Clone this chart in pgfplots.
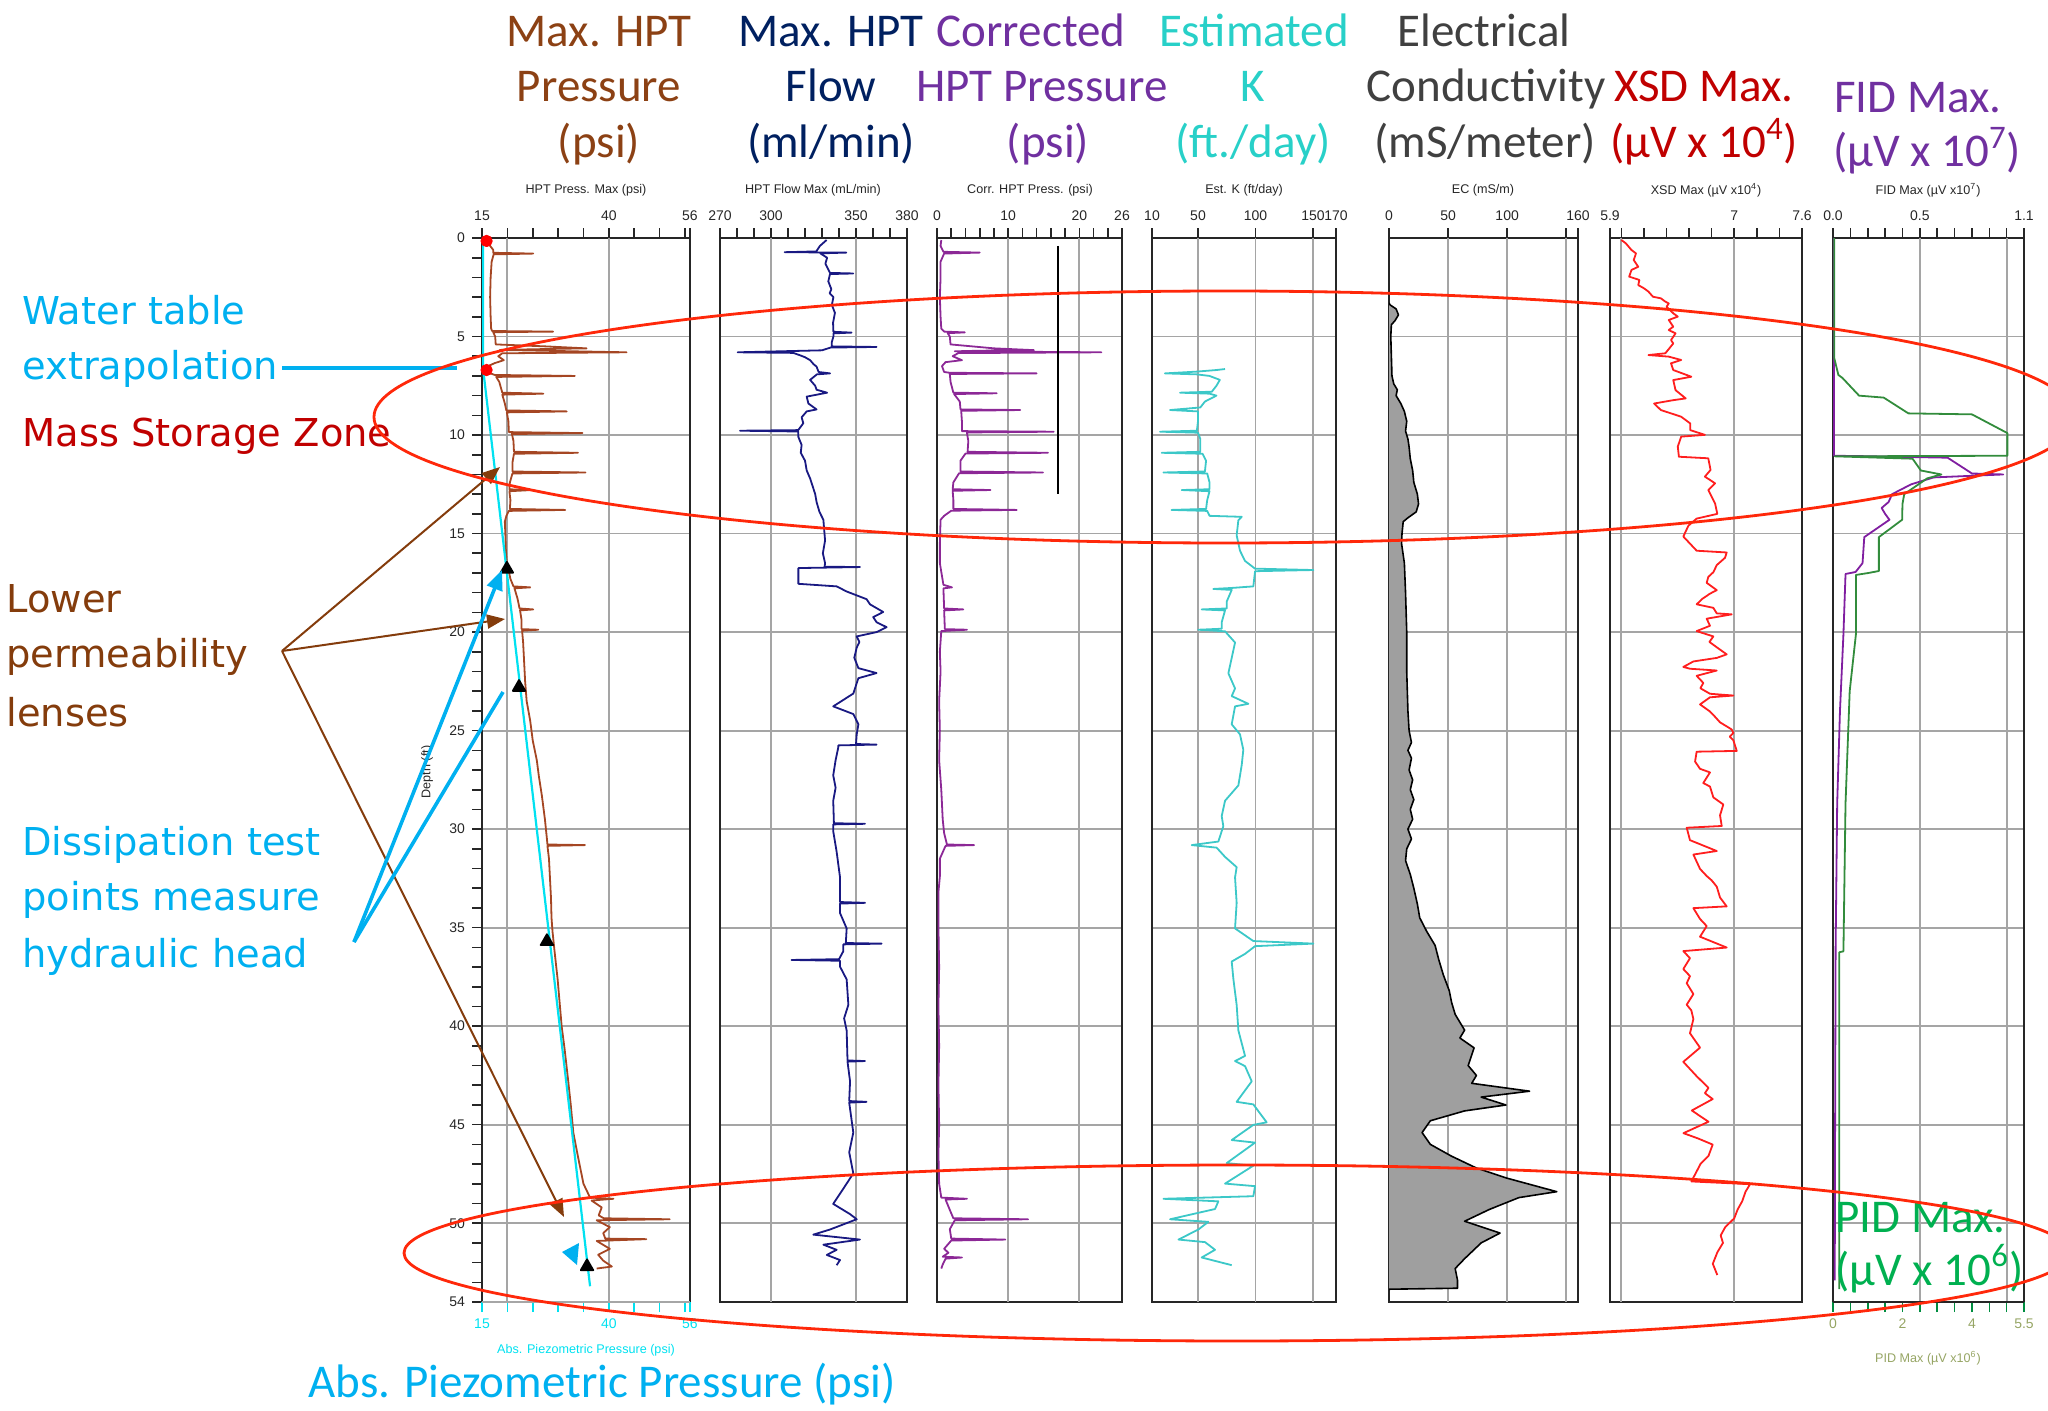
\documentclass[border=0pt]{standalone}
\usepackage{fontspec}
\setmainfont{Liberation Sans}
\newfontfamily\calfont{Carlito}
\newfontfamily\dvfont{DejaVu Sans}
\usepackage{pgfplots}
\pgfplotsset{compat=1.18}
\usetikzlibrary{arrows.meta}

\definecolor{hdrBrown}{RGB}{140,65,20}
\definecolor{hdrNavy}{RGB}{0,32,96}
\definecolor{hdrPurple}{RGB}{112,48,160}
\definecolor{hdrTurq}{RGB}{40,208,200}
\definecolor{hdrGray}{RGB}{64,64,64}
\definecolor{hdrRed}{RGB}{192,0,0}
\definecolor{hdrGreen}{RGB}{0,176,80}
\definecolor{annCyan}{RGB}{0,176,240}
\definecolor{annBrown}{RGB}{132,60,12}
\definecolor{ellRed}{RGB}{255,40,10}
\definecolor{dBrown}{RGB}{165,70,35}
\definecolor{dNavy}{RGB}{25,25,130}
\definecolor{dPurple}{RGB}{140,40,150}
\definecolor{dTurq}{RGB}{60,200,200}
\definecolor{dRed}{RGB}{255,30,30}
\definecolor{dFID}{RGB}{128,30,160}
\definecolor{dPID}{RGB}{50,140,60}
\definecolor{piezo}{RGB}{0,225,240}
\definecolor{pidtick}{RGB}{150,165,100}
\definecolor{gridc}{RGB}{165,165,165}

\pgfplotsset{
  panel/.style={
    scale only axis, height=532pt,
    y dir=reverse, ymin=0, ymax=54,
    axis line style={line width=1.3pt, black!85},
    ytick={0,5,...,50}, yticklabels={}, ytick style={draw=none},
    ymajorgrids, grid style={gridc, line width=0.9pt},
    xtick pos=right, xticklabel pos=right,
    tick align=outside,
    major tick length=5pt, minor tick length=5pt,
    tick style={black!85, line width=0.8pt},
    tick label style={font=\fontsize{7}{8}\selectfont, text=black!85},
    /pgf/number format/assume math mode=true,
    extra x tick labels={},
    extra x tick style={grid=major, major tick length=0pt},
    every axis plot/.append style={mark=none, line width=0.9pt, line join=round},
  },
  bottomaxis/.style={
    scale only axis, height=532pt,
    y dir=reverse, ymin=0, ymax=54,
    hide y axis, axis x line*=bottom,
    tick align=outside,
    major tick length=5pt, minor tick length=5pt,
    tick label style={font=\fontsize{7}{8}\selectfont},
    /pgf/number format/assume math mode=true,
    every axis plot/.append style={mark=none, line width=0.9pt, line join=round},
  },
}

\begin{document}
\begin{tikzpicture}
\path[use as bounding box] (0,0) rectangle (1024pt,-705.5pt);

% ---------------- Panel 1: HPT pressure ----------------
\begin{axis}[panel, at={(241pt,-119pt)}, anchor=north west, width=104pt,
  xmin=15, xmax=56, xtick={15,40,56}, minor xtick={20,25,30,35,45,50,55},
  extra x ticks={20,40},
  ytick={0,5,...,50,54}, yticklabels={0,5,10,15,20,25,30,35,40,45,50,54},
  minor ytick={1,2,...,53}, ytick pos=left, ytick style={draw=black!85},
  major tick length=5pt, minor tick length=5pt]
\addplot[dBrown] coordinates {
(15.9,0.05)(16.3,0.3)(17.2,0.6)(17.2,0.75)(25.1,0.79)(17.3,0.83)(16.9,1.2)(16.7,2.0)(16.6,3.0)(16.7,4.0)(16.8,4.6)(17.0,4.72)(29.0,4.75)(17.2,4.78)(17.6,5.0)(17.7,5.4)(27.5,5.5)(35.6,5.6)(28.5,5.63)(18.5,5.68)(43.5,5.8)(19.0,5.85)(18.2,6.0)(19.3,6.2)(17.5,6.35)(16.2,6.5)(16.0,6.8)(17.5,6.95)(33.3,7.0)(17.8,7.05)(18.4,7.3)(19.0,7.85)(27.1,7.9)(19.0,7.95)(19.5,8.4)(19.8,8.75)(31.7,8.8)(19.9,8.85)(20.2,9.3)(20.3,9.85)(34.8,9.9)(20.9,9.95)(21.2,10.3)(21.3,10.85)(33.9,10.9)(21.3,10.95)(21.0,11.4)(21.0,11.85)(35.4,11.9)(21.0,11.95)(20.5,12.4)(20.4,12.75)(24.2,12.8)(20.4,12.85)(20.6,13.3)(20.5,13.75)(31.4,13.8)(20.3,13.85)(19.8,14.1)(19.5,14.4)
(19.6,15.0)(19.7,15.8)(19.9,16.5)(20.2,16.8)(20.6,17.3)(21.2,17.68)(24.5,17.73)(21.4,17.78)(22.0,18.3)(22.4,18.8)(25.1,18.85)(22.5,18.9)(22.8,19.4)(22.8,19.85)(26.1,19.88)(22.9,19.93)(23.1,20.5)(23.3,21.5)(23.5,22.5)(23.8,23.5)(24.5,24.5)(25.0,25.5)(25.8,26.5)(26.2,27.3)(26.8,28.3)(27.4,29.5)(27.8,30.5)(27.9,30.78)(35.3,30.81)(27.9,30.85)(28.2,31.5)(28.4,32.5)(28.6,33.5)(28.7,34.5)(28.9,35.2)(29.3,36.2)(29.9,37.6)(30.3,38.8)(30.7,40.0)(31.3,41.2)(32.0,42.8)(32.5,44.0)(33.0,45.4)(33.9,46.6)(35.0,48.0)(36.3,48.7)(40.9,48.76)(36.6,48.85)(38.6,49.2)(38.0,49.6)(39.0,49.75)(52.0,49.8)(37.6,49.85)(40.2,50.2)(38.9,50.5)(39.3,50.78)(47.4,50.81)(37.6,50.9)(40.2,51.3)(37.9,51.6)(38.9,51.9)(40.6,52.2)(37.6,52.3)};
\addplot[piezo, line width=1.1pt] coordinates {(15.2,0)(15.2,6.6)(36.3,53.2)};
\addplot[only marks, mark=*, mark size=2.6pt, red] coordinates {(15.9,0.15)(15.9,6.7)};
\addplot[only marks, mark=triangle*, mark size=3.6pt, black] coordinates {(19.9,16.8)(22.3,22.8)(27.8,35.7)(35.7,52.2)};
\end{axis}
\begin{axis}[bottomaxis, at={(241pt,-119pt)}, anchor=north west, width=104pt,
  xmin=15, xmax=56, xtick={15,40,56}, minor xtick={20,25,30,35,45,50,55},
  x axis line style={gray!70, line width=1.3pt},
  tick style={piezo, line width=0.8pt}, xticklabel style={text=piezo}]
\addplot[draw=none] coordinates {(15,0)(56,54)};
\end{axis}

% ---------------- Panel 2: HPT flow ----------------
\begin{axis}[panel, at={(360pt,-119pt)}, anchor=north west, width=93.5pt,
  xmin=270, xmax=380, xtick={270,300,350,380},
  minor xtick={280,290,310,320,330,340,360,370}, extra x ticks={300,350}]
\addplot[dNavy] coordinates {
(332.7,0.1)(328.8,0.4)(326.6,0.68)(308.0,0.72)(344.3,0.74)(329,0.78)(333,1.0)(332,1.3)(333.7,1.6)(334.7,1.77)(348.4,1.8)(334.7,1.83)(333.7,2.2)(335.5,2.6)(334.5,2.8)(336.7,3.0)(335.8,3.4)(337.6,3.8)(336.5,4.3)(336.7,4.76)(347.4,4.8)(336.7,4.84)(336.7,5.0)(335.7,5.3)(335.7,5.5)(362.1,5.53)(335,5.56)(330,5.7)(280.4,5.8)(313.1,5.83)(317,5.95)(320,6.05)(323,6.2)(325,6.4)(326.8,6.53)(328,6.8)(334.7,6.87)(327,6.92)(323,7.2)(326,7.5)(326.8,7.7)(333,7.85)(321,8.05)(322,8.4)(326.8,8.7)(321,8.8)(318,9.1)(319,9.4)(316,9.75)(281.8,9.78)(316,9.82)(316.1,10.1)(318,10.5)(317.5,10.9)(320,11.3)(321,11.8)(323,12.2)(324.5,12.6)(326,13.0)(326.8,13.4)(328.5,13.9)(330.8,14.3)
(331.8,15.35)(330.5,16.0)(331.8,16.5)(331.5,16.68)(352.3,16.7)(316.1,16.75)(316.1,17.55)(338.6,17.68)(344.5,17.94)(356.2,18.33)(358.2,18.59)(366.0,18.98)(360.1,19.24)(362.1,19.5)(368.0,19.75)(362.1,20.0)(350.4,20.22)(352,20.5)(350.4,20.79)(349,21.3)(351.4,21.83)(362.1,22.08)(351.4,22.34)(350,22.7)(348.4,23.12)(336.6,23.77)(348.4,24.16)(351.4,24.68)(350.4,25.19)(350,25.68)(362.1,25.71)(339.6,25.75)(339.6,25.84)(338,26.5)(336.6,27.27)(338,27.9)(336.6,28.56)(337,29.7)(355.3,29.73)(336.6,29.76)(336.6,30.11)(338.6,31.15)(340.6,32.45)(340.6,33.7)(355.3,33.74)(340.6,33.78)(340.6,34.26)(344.5,35.04)(344,35.78)(365.1,35.81)(342.5,35.85)(342.5,36.2)(340,36.6)(312.1,36.64)(340.6,36.68)(340.6,36.98)(344.5,37.63)(345.5,38.92)(343,39.6)(344.5,40.22)(345,41.74)(355.3,41.77)(345,41.8)(346.5,42.8)(346,43.8)(356.2,43.84)(346,43.88)(348.4,45.4)(346,46.4)(348.4,47.47)(344.5,47.99)(336.6,49.02)(346.5,49.54)(350.4,49.8)(334.7,50.32)(324.9,50.58)(352.3,50.83)(330.8,51.09)(338.6,51.35)(332.8,51.61)(340.6,51.87)(338.6,52.13)};
\end{axis}

% ---------------- Panel 3: corrected HPT pressure ----------------
\begin{axis}[panel, at={(468.5pt,-119pt)}, anchor=north west, width=92.5pt,
  xmin=0, xmax=26, xtick={0,10,20,26},
  minor xtick={2,4,6,8,12,14,16,18,22,24}, extra x ticks={10,20}]
\addplot[dPurple] coordinates {
(0.6,0.1)(0.5,0.4)(0.9,0.7)(6.0,0.74)(1.0,0.79)(0.5,1.2)(0.5,2.0)(0.4,3.0)(0.5,4.0)(0.6,4.6)(1.0,4.75)(3.9,4.79)(1.5,4.83)(1.8,5.0)(1.9,5.4)(8,5.6)(13.6,5.69)(6,5.72)(2.5,5.75)(23.1,5.8)(3.0,5.84)(2.2,6.0)(3.5,6.2)(1.2,6.3)(0.7,6.5)(1.0,6.8)(1.8,6.84)(14.0,6.87)(1.8,6.9)(1.9,7.3)(2.3,7.85)(8.4,7.88)(2.4,7.92)(3.2,8.3)(3.3,8.7)(11.7,8.73)(3.4,8.77)(3.5,9.3)(3.5,9.8)(16.4,9.83)(4.2,9.87)(4.4,10.3)(4.3,10.85)(15.6,10.9)(4.0,10.94)(3.3,11.3)(3.3,11.85)(14.9,11.9)(3.1,11.94)(2.3,12.4)(2.2,12.75)(7.5,12.79)(2.2,12.83)(2.3,13.3)(2.3,13.75)(11.2,13.8)(2.0,13.84)(1.0,14.1)(0.5,14.3)
(0.4,15.5)(0.4,16.5)(0.9,17.6)(2.1,17.73)(0.9,17.78)(1.0,18.8)(3.7,18.85)(1.0,18.9)(1.1,19.85)(4.2,19.88)(0.6,19.95)(0.4,21)(0.5,22)(0.3,23.5)(0.4,25)(0.3,26.5)(0.6,28)(0.8,29.5)(1.0,30.2)(1.4,30.78)(5.2,30.81)(1.2,30.85)(0.4,31.5)(0.4,32.4)(0.2,33.2)(0.2,35)(0.3,37)(0.2,39)(0.3,41)(0.2,43)(0.3,45)(0.2,46.5)(0.3,48)(0.6,48.7)(4.2,48.76)(1.2,48.8)(2.0,49.5)(2.3,49.75)(12.8,49.8)(2.5,49.85)(1.8,50.3)(2.0,50.78)(9.6,50.83)(2.0,50.88)(1.0,51.3)(1.6,51.5)(0.8,51.7)(3.5,51.74)(1.2,51.8)(0.8,52.1)(0.6,52.3)};
\addplot[black, line width=1.3pt] coordinates {(17,0.4)(17,13.0)};
\end{axis}

% ---------------- Panel 4: estimated K ----------------
\begin{axis}[panel, at={(576pt,-119pt)}, anchor=north west, width=92pt,
  xmin=10, xmax=170, xtick={10,50,100,150,170}, extra x ticks={50,100,150}]
\addplot[dTurq] coordinates {
(73.5,6.65)(66,6.7)(49,6.78)(21.3,6.87)(49,6.92)(60,7.0)(69,7.2)(66,7.5)(62,7.8)(34.4,7.85)(60,7.9)(66,8.0)(56,8.3)(52,8.6)(25.7,8.73)(50,8.8)(50,9.3)(49,9.78)(17,9.83)(50,9.88)(52,10.2)(52,10.85)(18.4,10.9)(54,10.95)(57,11.3)(56,11.85)(19.9,11.9)(58,11.95)(60,12.4)(60,12.75)(35.8,12.79)(60,12.85)(58,13.3)(57,13.75)(27,13.8)(58,13.85)(60,14.1)(88,14.15)
(85.1,14.32)(83.6,15.09)(86.5,15.87)(90.9,16.39)(99.6,16.78)(150.3,16.85)(99.6,16.91)(98.1,17.68)(79.3,17.76)(63.3,17.81)(79.3,17.86)(74.9,18.46)(74.9,18.8)(53.2,18.85)(73.5,18.9)(70.6,19.5)(70.6,19.83)(50.3,19.88)(73.5,19.96)(82.2,20.53)(79.3,21.31)(76.4,22.09)(82.2,22.86)(79.3,23.25)(93.8,23.64)(82.2,23.77)(79.3,24.68)(86.5,25.19)(89.4,25.97)(88.0,26.75)(85.1,27.78)(73.5,28.56)(70.6,29.34)(72,29.85)(67.7,30.63)(44.5,30.81)(66.2,30.94)(73.5,31.41)(83.6,31.93)(82.2,32.45)(83.6,33.74)(82.2,35.04)(98.1,35.68)(150.3,35.81)(99.6,35.94)(90.9,36.33)(79.3,36.72)(80.8,37.63)(83.6,38.92)(85.1,40.22)(90.9,41.51)(82.2,41.77)(90.9,42.03)(96.7,42.8)(83.6,43.84)(98.1,43.97)(109.7,44.88)(98.1,45.01)(79.3,45.78)(99.6,45.91)(74.9,46.95)(98.1,47.08)(73.5,47.99)(99.6,48.12)(98.1,48.63)(19.9,48.76)(67.7,48.89)(64.8,49.28)(25.7,49.8)(59.0,49.93)(50.3,50.32)(33.0,50.83)(56.1,50.96)(64.8,51.35)(53.2,51.74)(79.3,52.13)};
\end{axis}

% ---------------- Panel 5: EC ----------------
\begin{axis}[panel, at={(694.5pt,-119pt)}, anchor=north west, width=94.5pt,
  xmin=0, xmax=160, xtick={0,50,100,160}, minor xtick={150}, extra x ticks={50,100,150}]
\addplot[fill=gray!75, draw=black, line width=0.8pt] coordinates {
(0,3.3)(1,3.4)(6,3.6)(8,3.9)(5,4.2)(2,4.4)(1.5,5)(2,6)(2.5,7)(4,7.4)(7,7.7)(6,8.0)(10,8.4)(13,8.8)(15,9.3)(14,9.8)(16,10.2)(17,10.6)(18,11.2)(20,11.8)(21,12.4)(24,13.0)(25,13.5)(23,13.9)(16,14.2)(12,14.4)(11,15.0)(10.6,15.5)(13,16.5)(14,18)(15,20)(15,22)(16,24)(17,25)(19,25.6)(16,26)(19,26.4)(17,27)(20,27.5)(18,28)(21,28.5)(18,29)(20,29.5)(16,30)(19,30.5)(15,31)(14,31.6)(18,32.3)(21,33.0)(24,33.8)(26,34.5)(32,35.2)(39,35.9)(42,36.6)(46,37.4)(51,38.2)(53,38.8)(56,39.4)(64,40.2)(60,40.6)(72,41.1)(67,42.0)(74,42.5)(70,42.9)(119,43.3)(78,43.6)(99,44.0)(64,44.3)(35,44.8)(28,45.4)(35,46.0)(53,46.6)(74,47.2)(99,47.7)(142,48.4)(110,48.7)(85,49.3)(64,49.9)(94,50.5)(78,51.0)(64,51.8)(56,52.3)(58,52.9)(58,53.3)(0,53.35)};
\end{axis}

% ---------------- Panel 6: XSD ----------------
\begin{axis}[panel, at={(805pt,-119pt)}, anchor=north west, width=96pt,
  xmin=5.9, xmax=7.6, xtick={5.9,7,7.6}, minor xtick={6.0,6.2,6.4,6.6,6.8,7.2,7.4},
  extra x ticks={6.0,7.0}]
\addplot[dRed] coordinates {
(6.00,0.10)(6.04,0.27)(6.09,0.61)(6.13,0.78)(6.11,1.12)(6.15,1.46)(6.09,1.62)(6.07,1.96)(6.16,2.13)(6.15,2.39)(6.20,2.55)(6.24,2.72)(6.28,2.98)(6.35,3.06)(6.39,3.23)(6.42,3.32)(6.40,3.49)(6.46,3.82)(6.50,3.99)(6.42,4.16)(6.46,4.50)(6.42,4.67)(6.48,4.84)(6.44,5.18)(6.46,5.35)(6.39,5.85)(6.24,5.94)(6.42,6.02)(6.53,6.19)(6.44,6.36)(6.46,6.70)(6.62,7.04)(6.46,7.21)(6.48,7.72)(6.57,8.14)(6.46,8.23)(6.29,8.40)(6.35,8.73)(6.53,9.07)(6.61,9.41)(6.61,9.75)(6.74,9.99)(6.53,10.08)(6.50,10.59)(6.51,11.10)(6.77,11.18)(6.79,11.77)(6.74,12.11)(6.83,12.45)(6.77,12.79)(6.83,13.47)(6.85,14.0)
(6.667,14.24)(6.594,14.6)(6.549,15.15)(6.608,15.51)(6.667,15.87)(6.933,15.96)(6.918,16.23)(6.845,16.6)(6.815,16.96)(6.77,17.2)(6.756,17.5)(6.845,17.87)(6.785,18.05)(6.72,18.3)(6.667,18.59)(6.815,18.77)(6.845,19.05)(6.977,19.1)(6.756,19.32)(6.785,19.68)(6.667,19.95)(6.815,20.22)(6.78,20.5)(6.845,20.77)(6.933,21.13)(6.845,21.31)(6.638,21.49)(6.549,21.77)(6.608,21.86)(6.845,21.95)(6.667,22.22)(6.726,22.58)(6.70,22.85)(6.785,23.13)(6.992,23.22)(6.785,23.31)(6.697,23.67)(6.785,24.03)(6.83,24.3)(6.874,24.58)(6.977,24.94)(6.992,25.12)(6.96,25.3)(6.992,25.49)(7.022,26.03)(6.667,26.07)(6.653,26.57)(6.697,26.94)(6.785,27.12)(6.726,27.66)(6.785,27.84)(6.815,28.39)(6.903,28.75)(6.874,29.3)(6.889,29.84)(6.579,29.93)(6.608,30.56)(6.845,31.11)(6.638,31.29)(6.697,32.02)(6.756,32.38)(6.80,32.6)(6.845,32.92)(6.874,33.47)(6.933,33.92)(6.638,34.01)(6.697,34.56)(6.756,34.92)(6.697,35.46)(6.933,36.01)(6.549,36.19)(6.608,36.55)(6.549,37.1)(6.608,37.46)(6.579,37.82)(6.638,38.37)(6.579,38.91)(6.62,39.2)(6.638,39.64)(6.608,40.36)(6.697,41.09)(6.549,41.81)(6.667,42.54)(6.772,43.13)(6.74,43.4)(6.809,43.7)(6.624,44.28)(6.772,44.85)(6.55,45.43)(6.68,45.7)(6.809,46.01)(6.772,46.58)(6.70,47.0)(6.66,47.45)(6.62,47.88)(7.14,48.02)(7.10,48.4)(7.07,48.89)(7.03,49.3)(7.00,49.75)(6.92,50.2)(6.88,50.62)(6.90,51.0)(6.85,51.48)(6.81,52.06)(6.85,52.63)};
\end{axis}

% ---------------- Panel 7: FID / PID ----------------
\begin{axis}[panel, at={(916.5pt,-119pt)}, anchor=north west, width=95.5pt,
  xmin=0, xmax=1.1, xtick={0,0.5,1.1}, xticklabels={0.0,0.5,1.1},
  minor xtick={0.1,0.2,0.3,0.4,0.6,0.7,0.8,0.9,1.0}, extra x ticks={0.5,1.0}]
\addplot[dFID] coordinates {
(0.005,0)(0.005,11.05)(0.17,11.07)(0.66,11.15)(0.80,11.95)(0.98,12.0)(0.58,12.15)(0.45,12.5)(0.34,13.0)(0.32,13.4)(0.28,13.7)(0.30,14.0)(0.325,14.3)(0.18,15.18)(0.17,16.5)(0.13,16.95)(0.072,17.05)(0.06,20.1)(0.04,24)(0.024,28.7)(0.015,36)(0.012,45)(0.01,52.9)};
\end{axis}
\begin{axis}[bottomaxis, at={(916.5pt,-119pt)}, anchor=north west, width=95.5pt,
  xmin=0, xmax=5.5, xtick={0,2,4,5.5}, minor xtick={0.5,1,1.5,2.5,3,3.5,4.5,5},
  x axis line style={black!85, line width=1.3pt},
  tick style={hdrGreen!80!black, line width=0.8pt}, xticklabel style={text=pidtick}]
\addplot[dPID] coordinates {
(0.036,0)(0.036,6.1)(0.154,6.95)(0.27,7.1)(0.75,8.0)(1.46,8.1)(2.17,8.9)(4.0,8.95)(5.02,9.9)(5.02,11.05)(0.05,11.08)(2.29,11.2)(2.53,11.8)(3.12,12.0)(2.71,12.2)(2.05,13.0)(2.0,13.5)(1.99,14.3)(1.32,15.18)(1.32,16.9)(1.02,17.0)(0.66,17.1)(0.66,20.1)(0.48,23.0)(0.36,28.7)(0.30,36.2)(0.18,36.25)(0.18,53.35)};
\end{axis}

% ---------------- annotations ----------------
\begin{scope}[x=0.5pt, y=-0.5pt]
\tikzset{hdr/.style={anchor=base, inner sep=0pt, font=\calfont\fontsize{23.5}{28}\selectfont},
         sm/.style={inner sep=0pt, font=\fontsize{6.3}{7}\selectfont, text=black!85},
         ann/.style={anchor=base west, inner sep=0pt, font=\dvfont\fontsize{19.2}{24}\selectfont}}
% small axis titles
\node[sm] at (586,190) {HPT Press. Max (psi)};
\node[sm] at (813,190) {HPT Flow Max (mL/min)};
\node[sm] at (1030,190) {Corr. HPT Press. (psi)};
\node[sm] at (1244,190) {Est. K (ft/day)};
\node[sm] at (1483,190) {EC (mS/m)};
\node[sm] at (1706,190) {XSD Max (µV x10\textsuperscript{4})};
\node[sm] at (1928,190) {FID Max (µV x10\textsuperscript{7})};
\node[sm, text=piezo] at (586,1350) {Abs. Piezometric Pressure (psi)};
\node[sm, text=pidtick] at (1928,1358) {PID Max (µV x10\textsuperscript{6})};
\node[sm, rotate=90] at (427,772) {Depth (ft)};
% headers
\node[hdr, text=hdrBrown] at (599,47) {Max. HPT};
\node[hdr, text=hdrBrown] at (599,102) {Pressure};
\node[hdr, text=hdrBrown] at (599,158) {(psi)};
\node[hdr, text=hdrNavy] at (831,47) {Max. HPT};
\node[hdr, text=hdrNavy] at (831,102) {Flow};
\node[hdr, text=hdrNavy] at (831,158) {(ml/min)};
\node[hdr, text=hdrPurple] at (1031,47) {Corrected};
\node[hdr, text=hdrPurple] at (1042,102) {HPT Pressure};
\node[hdr, text=hdrPurple] at (1048,158) {(psi)};
\node[hdr, text=hdrTurq] at (1254,47) {Estimated};
\node[hdr, text=hdrTurq] at (1253,102) {K};
\node[hdr, text=hdrTurq] at (1253,158) {(ft./day)};
\node[hdr, text=hdrGray] at (1484,47) {Electrical};
\node[hdr, text=hdrGray] at (1486,102) {Conductivity};
\node[hdr, text=hdrGray] at (1485,158) {(mS/meter)};
\node[hdr, text=hdrRed] at (1704,102) {XSD Max.};
\node[hdr, text=hdrRed] at (1704,158) {(µV x 10\textsuperscript{4})};
\node[hdr, text=hdrPurple] at (1918,113) {FID Max.};
\node[hdr, text=hdrPurple] at (1927,167) {(µV x 10\textsuperscript{7})};
\node[hdr, anchor=base west, text=hdrGreen] at (1835,1232) {PID Max.};
\node[hdr, anchor=base west, text=hdrGreen] at (1835,1285) {(µV x 10\textsuperscript{6})};
\node[hdr, text=annCyan] at (602,1397) {Abs. Piezometric Pressure (psi)};
% left annotations
\node[ann, text=annCyan] at (22,325) {Water table};
\node[ann, text=annCyan] at (22,380) {extrapolation};
\node[ann, text=hdrRed] at (22,446) {Mass Storage Zone};
\node[ann, text=annBrown] at (6,612) {Lower};
\node[ann, text=annBrown] at (6,667) {permeability};
\node[ann, text=annBrown] at (6,726) {lenses};
\node[ann, text=annCyan] at (22,855) {Dissipation test};
\node[ann, text=annCyan] at (22,910) {points measure};
\node[ann, text=annCyan] at (22,967) {hydraulic head};
% connectors
\draw[annCyan, line width=1.8pt] (282,368) -- (457,368);
\draw[annBrown, line width=1pt, -{Triangle[length=9pt,width=7pt]}] (282,651) -- (500,467);
\draw[annBrown, line width=1pt, -{Triangle[length=9pt,width=7pt]}] (282,651) -- (505,619);
\draw[annBrown, line width=1pt, -{Triangle[length=9pt,width=7pt]}] (282,651) -- (564,1217);
\draw[annCyan, line width=1.8pt, -{Triangle[length=10pt,width=8pt]}] (354,942) -- (502,570);
\draw[annCyan, line width=1.8pt] (354,942) -- (503,692);
\fill[annCyan] (562,1252) -- (579,1243) -- (577,1265) -- cycle;
% ellipses
\draw[ellRed, line width=1.4pt] (1225,417) ellipse [x radius=851, y radius=126];
\draw[ellRed, line width=1.4pt] (1237,1253) ellipse [x radius=833, y radius=88];
\end{scope}
\end{tikzpicture}
\end{document}
